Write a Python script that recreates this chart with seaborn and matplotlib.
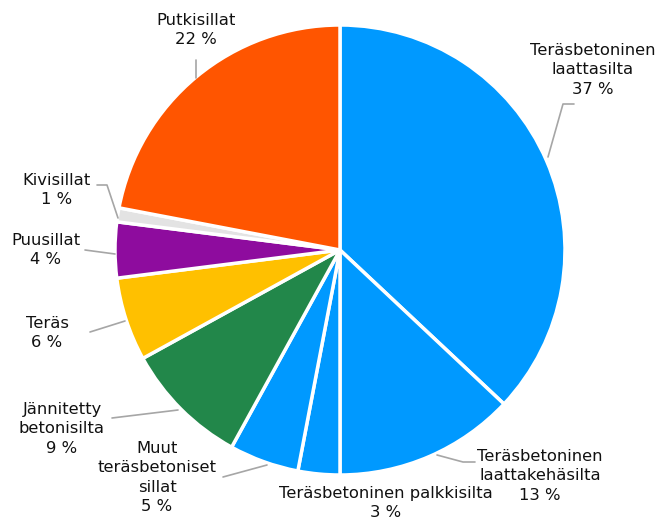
import matplotlib
matplotlib.use("Agg")
import matplotlib.pyplot as plt
import seaborn as sns

# Siltojen jakauma tyypeittäin (%)
categories = [
    "Teräsbetoninen\nlaattasilta",
    "Teräsbetoninen\nlaattakehäsilta",
    "Teräsbetoninen palkkisilta",
    "Muut\nteräsbetoniset\nsillat",
    "Jännitetty\nbetonisilta",
    "Teräs",
    "Puusillat",
    "Kivisillat",
    "Putkisillat",
]
shares = [37, 13, 3, 5, 9, 6, 4, 1, 22]
slice_colors = ["#0099FF", "#0099FF", "#0099FF", "#0099FF", "#22874A",
                "#FFC000", "#8E0C9E", "#E3E3E3", "#FF5500"]

# tekstien paikat (kuvan pikseleinä, y ylhäältä) ja viivat
label_pos = [(593, 52), (540, 458), (386, 495), (157, 450), (62, 411),
             (47, 325), (46, 242), (57, 182), (196, 22)]
leaders = [
    [(548, 157), (563, 104), (574, 104)],
    [(437, 455), (463, 462), (475, 462)],
    None,
    [(223, 477), (267, 465)],
    [(112, 418), (178, 410)],
    [(90, 332), (125, 321)],
    [(85, 250), (115, 254)],
    [(97, 185), (107, 185), (118, 218)],
    [(196, 60), (196, 78)],
]

sns.set_theme(style="white")
plt.rcParams["font.family"] = ["DejaVu Sans"]

W, H = 666, 530
fig = plt.figure(figsize=(W / 100, H / 100), dpi=100)
ax = fig.add_axes([0, 0, 1, 1])

ax.pie(shares, colors=slice_colors, startangle=90, counterclock=False,
       center=(340, H - 250), radius=225,
       wedgeprops=dict(edgecolor="white", linewidth=2.5))
ax.set_xlim(0, W)
ax.set_ylim(0, H)
ax.set_aspect("equal")
ax.axis("off")

for name, val, (x, y), line in zip(categories, shares, label_pos, leaders):
    ax.text(x, H - y + 9, f"{name}\n{val} %", ha="center", va="top",
            fontsize=11.8, color="#111111", linespacing=1.36)
    if line:
        ax.plot([p[0] for p in line], [H - p[1] for p in line],
                color="#A6A6A6", lw=1.2)

fig.savefig("out.png", dpi=100)
plt.close(fig)
